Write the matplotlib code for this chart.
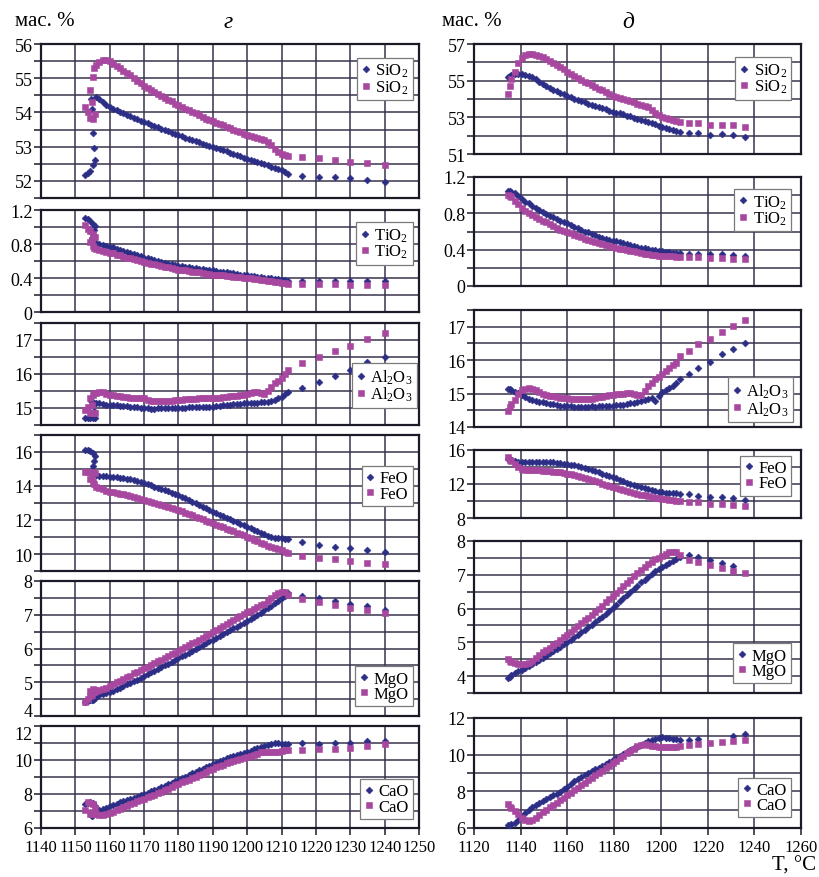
import numpy as np
import matplotlib
matplotlib.use('Agg')
import matplotlib.pyplot as plt
from matplotlib.ticker import MultipleLocator, FixedLocator, FuncFormatter

plt.rcParams['font.family'] = ['Liberation Serif', 'DejaVu Serif']
plt.rcParams['mathtext.fontset'] = 'custom'
plt.rcParams['mathtext.rm'] = 'Liberation Serif'
plt.rcParams['mathtext.default'] = 'rm'

# ---------- колонка "г": температуры ----------
t_g_n = [1152.8, 1153.6, 1154.4, 1155.2, 1155.7, 1155.3, 1155.0, 1154.7, 1154.6,
         1156, 1157, 1158, 1159, 1160, 1161, 1162, 1163, 1164, 1165,
         1166, 1167, 1168, 1169, 1170, 1171, 1172, 1173, 1174, 1175,
         1176, 1177, 1178, 1179, 1180, 1181, 1182, 1183, 1184, 1185,
         1186, 1187, 1188, 1189, 1190, 1191, 1192, 1193, 1194, 1195,
         1196, 1197, 1198, 1199, 1200, 1201, 1202, 1203, 1204, 1205,
         1206, 1207, 1208, 1209, 1210, 1211, 1212,
         1216, 1221, 1225.5, 1230, 1235, 1240]
t_g_m = [1152.8, 1153.6, 1154.4, 1155.2, 1155.6, 1154.8, 1154.4, 1155.0, 1155.5,
         1156, 1157, 1158, 1159, 1160, 1161, 1162, 1163, 1164, 1165,
         1166, 1167, 1168, 1169, 1170, 1171, 1172, 1173, 1174, 1175,
         1176, 1177, 1178, 1179, 1180, 1181, 1182, 1183, 1184, 1185,
         1186, 1187, 1188, 1189, 1190, 1191, 1192, 1193, 1194, 1195,
         1196, 1197, 1198, 1199, 1200, 1201, 1202, 1203, 1204, 1205,
         1206, 1207, 1208, 1209, 1210, 1211, 1212,
         1216, 1221, 1225.5, 1230, 1235, 1240]

# ---------- колонка "г": составы (ромбы / квадраты) ----------
sio2_g_n = [52.18, 52.22, 52.30, 52.45, 52.60, 52.95, 53.40, 54.10, 54.40,
            54.45, 54.38, 54.30, 54.22, 54.15, 54.11, 54.06, 54.02, 53.98, 53.93,
            53.89, 53.85, 53.81, 53.76, 53.72, 53.68, 53.64, 53.61, 53.57, 53.53,
            53.49, 53.45, 53.41, 53.37, 53.33, 53.30, 53.26, 53.23, 53.20, 53.16,
            53.13, 53.09, 53.06, 53.02, 52.99, 52.96, 52.92, 52.89, 52.86, 52.82,
            52.79, 52.75, 52.72, 52.68, 52.65, 52.62, 52.58, 52.55, 52.52, 52.48,
            52.45, 52.41, 52.38, 52.34, 52.31, 52.25, 52.19,
            52.15, 52.12, 52.10, 52.08, 52.03, 51.97]
sio2_g_m = [54.15, 54.00, 53.85, 53.80, 53.95, 54.30, 54.65, 55.05, 55.30,
            55.40, 55.48, 55.52, 55.52, 55.49, 55.43, 55.36, 55.29, 55.22, 55.15,
            55.08, 55.00, 54.93, 54.86, 54.78, 54.72, 54.66, 54.60, 54.54, 54.49,
            54.43, 54.37, 54.32, 54.26, 54.21, 54.16, 54.11, 54.06, 54.02, 53.97,
            53.92, 53.87, 53.82, 53.78, 53.74, 53.70, 53.66, 53.62, 53.58, 53.54,
            53.50, 53.46, 53.42, 53.38, 53.34, 53.31, 53.27, 53.24, 53.22, 53.19,
            53.15, 53.05, 52.94, 52.85, 52.80, 52.77, 52.74,
            52.70, 52.67, 52.62, 52.56, 52.53, 52.47]
tio2_g_n = [1.11, 1.09, 1.07, 1.04, 1.01, 0.97, 0.92, 0.87, 0.83,
            0.81, 0.80, 0.79, 0.78, 0.77, 0.76, 0.745, 0.73, 0.72, 0.705,
            0.69, 0.68, 0.665, 0.655, 0.64, 0.63, 0.62, 0.61, 0.60, 0.59,
            0.58, 0.57, 0.56, 0.555, 0.545, 0.54, 0.53, 0.525, 0.52, 0.515,
            0.51, 0.505, 0.50, 0.495, 0.49, 0.48, 0.475, 0.47, 0.465, 0.46,
            0.455, 0.45, 0.44, 0.435, 0.43, 0.425, 0.42, 0.415, 0.41, 0.405,
            0.40, 0.395, 0.39, 0.385, 0.38, 0.375, 0.37,
            0.37, 0.37, 0.37, 0.36, 0.36, 0.36]
tio2_g_m = [1.02, 0.98, 0.95, 0.92, 0.88, 0.85, 0.82, 0.78, 0.75,
            0.74, 0.73, 0.72, 0.71, 0.70, 0.69, 0.675, 0.665, 0.65, 0.64,
            0.63, 0.62, 0.61, 0.595, 0.585, 0.575, 0.565, 0.56, 0.55, 0.54,
            0.535, 0.525, 0.515, 0.51, 0.50, 0.495, 0.49, 0.48, 0.475, 0.47,
            0.465, 0.46, 0.45, 0.445, 0.44, 0.44, 0.435, 0.43, 0.425, 0.42,
            0.415, 0.41, 0.41, 0.405, 0.40, 0.395, 0.39, 0.385, 0.38, 0.375,
            0.37, 0.36, 0.355, 0.35, 0.345, 0.34, 0.33,
            0.33, 0.33, 0.33, 0.32, 0.32, 0.32]
al2o3_g_n = [14.70, 14.70, 14.70, 14.70, 14.72, 14.90, 15.10, 15.22, 15.20,
             15.15, 15.14, 15.12, 15.10, 15.09, 15.08, 15.08, 15.07, 15.06, 15.05,
             15.04, 15.03, 15.02, 15.00, 14.99, 14.99, 14.98, 14.98, 14.99, 14.99,
             15.00, 15.00, 15.00, 15.00, 15.00, 15.01, 15.01, 15.02, 15.02, 15.03,
             15.03, 15.03, 15.04, 15.04, 15.04, 15.05, 15.06, 15.08, 15.09, 15.10,
             15.11, 15.12, 15.13, 15.14, 15.14, 15.15, 15.15, 15.16, 15.17, 15.18,
             15.19, 15.21, 15.24, 15.28, 15.33, 15.40, 15.48,
             15.58, 15.77, 15.95, 16.12, 16.34, 16.51]
al2o3_g_m = [14.94, 15.04, 14.84, 14.84, 14.84, 15.10, 15.30, 15.38, 15.45,
             15.45, 15.47, 15.46, 15.42, 15.38, 15.37, 15.35, 15.34, 15.32, 15.31,
             15.30, 15.30, 15.29, 15.29, 15.28, 15.24, 15.22, 15.21, 15.20, 15.20,
             15.20, 15.21, 15.22, 15.23, 15.24, 15.25, 15.26, 15.27, 15.27, 15.27,
             15.28, 15.28, 15.28, 15.28, 15.28, 15.29, 15.30, 15.31, 15.33, 15.34,
             15.35, 15.36, 15.37, 15.38, 15.40, 15.44, 15.47, 15.48, 15.44, 15.40,
             15.50, 15.62, 15.73, 15.80, 15.87, 15.99, 16.12,
             16.33, 16.49, 16.69, 16.82, 17.02, 17.21]
feo_g_n = [16.12, 16.10, 16.05, 15.96, 15.78, 15.45, 15.15, 14.92, 14.70,
           14.62, 14.61, 14.60, 14.58, 14.55, 14.53, 14.51, 14.49, 14.47, 14.44,
           14.40, 14.35, 14.29, 14.23, 14.16, 14.10, 14.03, 13.96, 13.89, 13.82,
           13.75, 13.68, 13.61, 13.54, 13.47, 13.37, 13.27, 13.18, 13.08, 12.98,
           12.88, 12.78, 12.69, 12.59, 12.49, 12.40, 12.31, 12.22, 12.13, 12.04,
           11.95, 11.86, 11.78, 11.69, 11.60, 11.51, 11.42, 11.33, 11.24, 11.15,
           11.08, 11.02, 10.97, 10.94, 10.92, 10.89, 10.86,
           10.72, 10.53, 10.43, 10.34, 10.24, 10.10]
feo_g_m = [14.84, 14.84, 14.82, 14.80, 14.78, 14.55, 14.40, 14.25, 14.10,
           13.96, 13.88, 13.80, 13.73, 13.66, 13.62, 13.58, 13.55, 13.51, 13.47,
           13.41, 13.35, 13.30, 13.24, 13.18, 13.12, 13.06, 13.00, 12.95, 12.89,
           12.83, 12.77, 12.71, 12.65, 12.59, 12.51, 12.43, 12.35, 12.27, 12.19,
           12.12, 12.04, 11.96, 11.88, 11.80, 11.72, 11.64, 11.57, 11.49, 11.41,
           11.33, 11.25, 11.18, 11.10, 11.02, 10.93, 10.84, 10.75, 10.66, 10.57,
           10.50, 10.44, 10.37, 10.30, 10.24, 10.14, 10.04,
           9.88, 9.75, 9.69, 9.61, 9.49, 9.39]
mgo_g_n = [4.42, 4.44, 4.46, 4.50, 4.53, 4.50, 4.48, 4.47, 4.52,
           4.58, 4.61, 4.64, 4.67, 4.70, 4.75, 4.80, 4.84, 4.89, 4.94,
           4.99, 5.03, 5.08, 5.13, 5.18, 5.23, 5.29, 5.34, 5.39, 5.45,
           5.50, 5.55, 5.61, 5.66, 5.71, 5.77, 5.82, 5.88, 5.93, 5.99,
           6.04, 6.10, 6.15, 6.21, 6.26, 6.32, 6.37, 6.43, 6.48, 6.54,
           6.60, 6.65, 6.71, 6.76, 6.82, 6.88, 6.94, 7.00, 7.06, 7.13,
           7.20, 7.27, 7.34, 7.42, 7.49, 7.57, 7.64,
           7.56, 7.49, 7.40, 7.32, 7.25, 7.15]
mgo_g_m = [4.42, 4.50, 4.58, 4.80, 4.76, 4.62, 4.73, 4.72, 4.72,
           4.74, 4.76, 4.79, 4.84, 4.90, 4.95, 5.00, 5.05, 5.10, 5.15,
           5.20, 5.26, 5.31, 5.36, 5.41, 5.46, 5.51, 5.57, 5.62, 5.67,
           5.72, 5.77, 5.83, 5.88, 5.93, 5.98, 6.04, 6.09, 6.15, 6.20,
           6.26, 6.31, 6.37, 6.42, 6.48, 6.54, 6.60, 6.66, 6.72, 6.78,
           6.84, 6.90, 6.95, 7.01, 7.07, 7.12, 7.18, 7.23, 7.28, 7.33,
           7.41, 7.50, 7.60, 7.64, 7.66, 7.68, 7.58,
           7.47, 7.39, 7.29, 7.20, 7.15, 7.05]
cao_g_n = [7.42, 7.50, 7.52, 7.45, 7.30, 6.95, 6.78, 6.72, 6.75,
           6.97, 7.05, 7.12, 7.20, 7.27, 7.35, 7.43, 7.51, 7.59, 7.66,
           7.72, 7.79, 7.85, 7.92, 7.98, 8.07, 8.15, 8.24, 8.32, 8.41,
           8.50, 8.58, 8.67, 8.75, 8.84, 8.93, 9.02, 9.12, 9.21, 9.30,
           9.39, 9.48, 9.57, 9.66, 9.75, 9.84, 9.93, 10.02, 10.10, 10.19,
           10.25, 10.31, 10.36, 10.42, 10.48, 10.55, 10.63, 10.70, 10.78, 10.83,
           10.88, 10.94, 11.00, 11.02, 10.95, 10.93, 10.93,
           11.00, 10.95, 11.00, 11.02, 11.10, 11.14]
cao_g_m = [7.03, 7.52, 7.50, 7.42, 7.20, 6.95, 6.85, 6.80, 6.80,
           6.80, 6.78, 6.74, 6.80, 6.87, 6.95, 7.04, 7.13, 7.23, 7.32,
           7.40, 7.49, 7.56, 7.64, 7.72, 7.80, 7.88, 7.95, 8.03, 8.11,
           8.21, 8.31, 8.41, 8.51, 8.61, 8.69, 8.77, 8.84, 8.92, 9.00,
           9.10, 9.20, 9.30, 9.40, 9.50, 9.58, 9.66, 9.73, 9.81, 9.89,
           9.95, 10.01, 10.07, 10.13, 10.19, 10.23, 10.28, 10.38, 10.47, 10.48,
           10.48, 10.48, 10.48, 10.48, 10.55, 10.58, 10.58,
           10.58, 10.65, 10.65, 10.70, 10.80, 10.94]

# ---------- колонка "д": температуры ----------
t_d = [1134.6, 1135.3,
       1136.0, 1137.5, 1139.0, 1140.5, 1142.0, 1143.5, 1145.0, 1146.5, 1148.0, 1149.5,
       1151.0, 1152.5, 1154.0, 1155.5, 1157.0, 1158.5, 1160.0, 1161.5, 1163.0, 1164.5,
       1166.0, 1167.5, 1169.0, 1170.5, 1172.0, 1173.5, 1175.0, 1176.5, 1178.0, 1179.5,
       1181.0, 1182.5, 1184.0, 1185.5, 1187.0, 1188.5, 1190.0, 1191.5, 1193.0, 1194.5,
       1196.0, 1197.5, 1199.0, 1200.5, 1202.0, 1203.5, 1205.0, 1206.5, 1208.0,
       1212, 1216, 1221, 1226, 1231, 1236]

sio2_d_n = [55.18, 55.25,
            55.30, 55.34, 55.36, 55.35, 55.32, 55.28, 55.19, 55.07, 54.94, 54.81,
            54.69, 54.59, 54.50, 54.41, 54.33, 54.25, 54.17, 54.09, 54.02, 53.95,
            53.88, 53.81, 53.75, 53.68, 53.62, 53.56, 53.50, 53.43, 53.37, 53.31,
            53.26, 53.21, 53.16, 53.10, 53.05, 52.98, 52.92, 52.86, 52.80, 52.73,
            52.67, 52.61, 52.54, 52.47, 52.41, 52.35, 52.29, 52.23, 52.18,
            52.14, 52.14, 52.04, 52.09, 52.04, 51.94]
sio2_d_m = [54.27, 54.73,
            55.10, 55.45, 55.95, 56.25, 56.42, 56.48, 56.47, 56.42, 56.35, 56.27,
            56.18, 56.07, 55.96, 55.86, 55.74, 55.62, 55.50, 55.39, 55.27, 55.15,
            55.04, 54.94, 54.85, 54.75, 54.66, 54.56, 54.47, 54.37, 54.28, 54.19,
            54.13, 54.08, 54.02, 53.96, 53.90, 53.82, 53.75, 53.68, 53.62, 53.55,
            53.38, 53.22, 53.12, 53.03, 52.97, 52.92, 52.88, 52.82, 52.76,
            52.69, 52.69, 52.58, 52.60, 52.58, 52.45]
tio2_d_n = [1.05, 1.045,
            1.04, 1.02, 0.99, 0.96, 0.93, 0.91, 0.88, 0.86, 0.84, 0.81,
            0.79, 0.77, 0.76, 0.74, 0.72, 0.70, 0.69, 0.67, 0.65, 0.64,
            0.62, 0.60, 0.59, 0.57, 0.56, 0.54, 0.53, 0.52, 0.51, 0.50,
            0.49, 0.48, 0.47, 0.46, 0.45, 0.44, 0.43, 0.42, 0.415, 0.41,
            0.40, 0.395, 0.39, 0.38, 0.375, 0.37, 0.365, 0.36, 0.36,
            0.35, 0.35, 0.35, 0.35, 0.34, 0.33]
tio2_d_m = [1.00, 0.99,
            0.98, 0.94, 0.90, 0.86, 0.83, 0.80, 0.78, 0.76, 0.74, 0.72,
            0.70, 0.68, 0.66, 0.64, 0.62, 0.61, 0.59, 0.58, 0.56, 0.55,
            0.54, 0.52, 0.51, 0.50, 0.48, 0.47, 0.46, 0.45, 0.44, 0.43,
            0.42, 0.41, 0.405, 0.395, 0.39, 0.38, 0.37, 0.36, 0.355, 0.35,
            0.345, 0.34, 0.335, 0.33, 0.33, 0.325, 0.325, 0.32, 0.32,
            0.32, 0.32, 0.31, 0.31, 0.30, 0.30]
al2o3_d_n = [15.15, 15.13,
             15.10, 15.06, 15.01, 14.96, 14.90, 14.85, 14.81, 14.78, 14.76, 14.74,
             14.72, 14.70, 14.68, 14.66, 14.64, 14.63, 14.62, 14.62, 14.61, 14.61,
             14.60, 14.61, 14.61, 14.62, 14.61, 14.62, 14.62, 14.63, 14.63, 14.64,
             14.65, 14.66, 14.67, 14.69, 14.71, 14.73, 14.75, 14.77, 14.80, 14.83,
             14.86, 14.78, 14.92, 15.05, 15.12, 15.17, 15.23, 15.33, 15.45,
             15.60, 15.77, 15.94, 16.17, 16.34, 16.52]
al2o3_d_m = [14.48, 14.60,
             14.68, 14.82, 14.98, 15.10, 15.15, 15.16, 15.14, 15.10, 15.05, 15.00,
             14.96, 14.94, 14.92, 14.90, 14.88, 14.87, 14.86, 14.85, 14.84, 14.83,
             14.83, 14.84, 14.84, 14.85, 14.87, 14.89, 14.91, 14.93, 14.95, 14.97,
             14.98, 14.99, 15.00, 15.01, 15.01, 15.00, 14.97, 14.96, 15.08, 15.22,
             15.33, 15.43, 15.51, 15.60, 15.68, 15.76, 15.84, 15.92, 16.12,
             16.27, 16.49, 16.64, 16.83, 17.01, 17.21]
feo_d_n = [15.00, 14.90,
           14.85, 14.65, 14.58, 14.60, 14.62, 14.63, 14.63, 14.62, 14.62, 14.62,
           14.61, 14.59, 14.56, 14.52, 14.47, 14.41, 14.34, 14.27, 14.20, 14.12,
           14.00, 13.87, 13.74, 13.61, 13.49, 13.36, 13.23, 13.11, 12.98, 12.81,
           12.65, 12.48, 12.31, 12.17, 12.04, 11.91, 11.79, 11.66, 11.55, 11.44,
           11.33, 11.22, 11.11, 11.05, 11.00, 10.96, 10.93, 10.90, 10.88,
           10.82, 10.62, 10.50, 10.43, 10.31, 10.16]
feo_d_m = [15.14, 14.85,
           14.70, 14.30, 13.95, 13.75, 13.70, 13.67, 13.65, 13.62, 13.60, 13.58,
           13.55, 13.51, 13.47, 13.43, 13.38, 13.31, 13.23, 13.14, 13.05, 12.94,
           12.81, 12.69, 12.56, 12.43, 12.31, 12.18, 12.05, 11.93, 11.80, 11.67,
           11.55, 11.42, 11.30, 11.19, 11.08, 10.97, 10.87, 10.76, 10.66, 10.57,
           10.49, 10.41, 10.33, 10.26, 10.20, 10.14, 10.09, 10.04, 10.00,
           9.85, 9.85, 9.65, 9.65, 9.53, 9.45]
mgo_d_n = [3.93, 3.97,
           4.02, 4.09, 4.14, 4.19, 4.25, 4.31, 4.37, 4.43, 4.49, 4.55,
           4.61, 4.68, 4.74, 4.80, 4.87, 4.94, 5.01, 5.08, 5.16, 5.23,
           5.30, 5.37, 5.45, 5.52, 5.60, 5.68, 5.76, 5.84, 5.93, 6.02,
           6.12, 6.21, 6.31, 6.40, 6.50, 6.59, 6.68, 6.78, 6.86, 6.94,
           7.02, 7.10, 7.17, 7.23, 7.29, 7.35, 7.41, 7.47, 7.53,
           7.59, 7.52, 7.44, 7.35, 7.27, np.nan]
mgo_d_m = [4.50, 4.45,
           4.43, 4.40, 4.37, 4.35, 4.36, 4.40, 4.46, 4.54, 4.62, 4.70,
           4.77, 4.84, 4.91, 4.99, 5.07, 5.15, 5.23, 5.31, 5.40, 5.48,
           5.57, 5.65, 5.73, 5.82, 5.90, 5.99, 6.08, 6.18, 6.28, 6.37,
           6.47, 6.56, 6.66, 6.75, 6.85, 6.95, 7.05, 7.14, 7.23, 7.31,
           7.39, 7.46, 7.51, 7.56, 7.61, 7.66, 7.68, 7.67, 7.60,
           7.45, 7.37, 7.29, 7.19, 7.12, 7.04]
cao_d_n = [6.14, 6.16,
           6.20, 6.27, 6.43, 6.62, 6.81, 7.00, 7.12, 7.24, 7.37, 7.49,
           7.59, 7.69, 7.78, 7.88, 7.98, 8.12, 8.26, 8.40, 8.54, 8.65,
           8.76, 8.88, 8.99, 9.10, 9.20, 9.29, 9.39, 9.48, 9.58, 9.69,
           9.81, 9.92, 10.04, 10.16, 10.25, 10.34, 10.44, 10.55, 10.66, 10.75,
           10.81, 10.87, 10.91, 10.95, 10.93, 10.90, 10.86, 10.84, 10.82,
           10.82, 10.86, np.nan, np.nan, 11.03, 11.13]
cao_d_m = [7.31, 7.15,
           7.10, 6.95, 6.76, 6.56, 6.43, 6.40, 6.45, 6.56, 6.71, 6.86,
           6.99, 7.13, 7.26, 7.39, 7.52, 7.66, 7.79, 7.92, 8.06, 8.20,
           8.33, 8.47, 8.60, 8.73, 8.87, 9.00, 9.13, 9.27, 9.40, 9.53,
           9.67, 9.81, 9.95, 10.07, 10.20, 10.33, 10.45, 10.55, 10.57, 10.55,
           10.50, 10.47, 10.44, 10.42, 10.40, 10.40, 10.40, 10.42, 10.50,
           10.53, 10.58, 10.62, 10.71, 10.77, 10.82]

NAVY = '#2c2e86'
MAGENTA = '#a8479f'
GRID = '#39334d'
FRAME = '#1c1a26'

W, H = 819, 878
fig = plt.figure(figsize=(W / 100, H / 100), dpi=100)


def add_axes(x0, x1, y0, y1):
    # пиксельные координаты -> доли фигуры
    return fig.add_axes([x0 / W, 1 - y1 / H, (x1 - x0) / W, (y1 - y0) / H])


def panel(ax, tn, yn, tm, ym, label, ylim, majors, minor, loc, anchor,
          xlim, xstep, bottom):
    ax.plot(tn, yn, ls='none', marker='D', ms=3.5, color=NAVY, mec=NAVY,
            mew=0.4, label=label, zorder=3, clip_on=False)
    ax.plot(tm, ym, ls='none', marker='s', ms=4.2, color=MAGENTA, mec=MAGENTA,
            mew=0.4, label=label, zorder=3, clip_on=False)
    ax.set_xlim(*xlim)
    ax.set_ylim(*ylim)
    ax.xaxis.set_major_locator(MultipleLocator(xstep))
    ax.yaxis.set_major_locator(FixedLocator(majors))
    ax.yaxis.set_major_formatter(FuncFormatter(lambda v, p: f'{v:g}'))
    ax.yaxis.set_minor_locator(MultipleLocator(minor))
    ax.grid(True, which='major', axis='x', color=GRID, lw=1.1)
    ax.grid(True, which='both', axis='y', color=GRID, lw=1.1)
    ax.set_axisbelow(True)
    for s in ax.spines.values():
        s.set_linewidth(1.6)
        s.set_color(FRAME)
    ax.tick_params(axis='y', which='both', direction='out', length=5,
                   width=1.1, color=FRAME, labelsize=13, pad=1)
    if bottom:
        ax.tick_params(axis='x', direction='out', length=5, width=1.1,
                       color=FRAME, labelsize=12, pad=3)
    else:
        ax.tick_params(axis='x', length=0, labelbottom=False)
    leg = ax.legend(loc=loc, bbox_to_anchor=anchor, fontsize=12,
                    frameon=True, fancybox=False, framealpha=1,
                    edgecolor='#7a7a7a', handlelength=0.55, handletextpad=0.3,
                    labelspacing=-0.05, borderpad=0.25, borderaxespad=0,
                    markerscale=1.0)
    leg.get_frame().set_linewidth(0.9)
    return ax


# левая колонка (г)
xl = (1140, 1250)
panel(add_axes(41, 419, 45, 199), t_g_n, sio2_g_n, t_g_m, sio2_g_m, 'SiO$_2$',
      (51.5, 56), [52, 53, 54, 55, 56], 0.5, 'upper right', (0.983, 0.91), xl, 10, False)
panel(add_axes(41, 419, 211, 313), t_g_n, tio2_g_n, t_g_m, tio2_g_m, 'TiO$_2$',
      (0, 1.2), [0, 0.4, 0.8, 1.2], 0.2, 'upper right', (0.983, 0.88), xl, 10, False)
panel(add_axes(41, 419, 324, 426), t_g_n, al2o3_g_n, t_g_m, al2o3_g_m, 'Al$_2$O$_3$',
      (14.5, 17.5), [15, 16, 17], 0.5, 'lower right', (0.995, 0.17), xl, 10, False)
panel(add_axes(41, 419, 436, 572), t_g_n, feo_g_n, t_g_m, feo_g_m, 'FeO',
      (9, 17), [10, 12, 14, 16], 1, 'upper right', (0.983, 0.77), xl, 10, False)
ax_mg = panel(add_axes(41, 419, 582, 717), t_g_n, mgo_g_n, t_g_m, mgo_g_m, 'MgO',
              (4, 8), [4, 5, 6, 7, 8], 0.5, 'lower right', (0.983, 0.075), xl, 10, False)
ax_ca = panel(add_axes(41, 419, 727, 829), t_g_n, cao_g_n, t_g_m, cao_g_m, 'CaO',
              (6, 12), [6, 8, 10, 12], 1, 'lower right', (0.983, 0.09), xl, 10, True)
# "4" и "12" стоят почти вплотную, как в оригинале
ax_mg.yaxis.get_major_ticks()[0].label1.set_verticalalignment('baseline')
ax_ca.yaxis.get_major_ticks()[-1].label1.set_verticalalignment('top')

# правая колонка (д)
xr = (1120, 1260)
panel(add_axes(474, 801, 45, 155), t_d, sio2_d_n, t_d, sio2_d_m, 'SiO$_2$',
      (51, 57), [51, 53, 55, 57], 1, 'upper right', (0.969, 0.88), xr, 20, False)
panel(add_axes(474, 801, 178, 287), t_d, tio2_d_n, t_d, tio2_d_m, 'TiO$_2$',
      (0, 1.2), [0, 0.4, 0.8, 1.2], 0.2, 'upper right', (0.969, 0.89), xr, 20, False)
panel(add_axes(474, 801, 311, 428), t_d, al2o3_d_n, t_d, al2o3_d_m, 'Al$_2$O$_3$',
      (14, 17.5), [14, 15, 16, 17], 0.5, 'lower right', (0.975, 0.045), xr, 20, False)
panel(add_axes(474, 801, 451, 519), t_d, feo_d_n, t_d, feo_d_m, 'FeO',
      (8, 16), [8, 12, 16], 2, 'upper right', (0.969, 0.91), xr, 20, False)
panel(add_axes(474, 801, 542, 694), t_d, mgo_d_n, t_d, mgo_d_m, 'MgO',
      (3.5, 8), [4, 5, 6, 7, 8], 0.5, 'lower right', (0.969, 0.066), xr, 20, False)
panel(add_axes(474, 801, 719, 829), t_d, cao_d_n, t_d, cao_d_m, 'CaO',
      (6, 12), [6, 8, 10, 12], 1, 'lower right', (0.969, 0.10), xr, 20, True)

fig.text(15 / W, 1 - 22 / H, 'мас. %', fontsize=15, ha='left', va='center')
fig.text(442 / W, 1 - 22 / H, 'мас. %', fontsize=15, ha='left', va='center')
fig.text(228 / W, 1 - 22 / H, 'г', fontsize=17, style='italic', ha='center', va='center')
fig.text(628 / W, 1 - 22 / H, 'д', fontsize=17, style='italic', ha='center', va='center')
fig.text(816 / W, 1 - 857 / H, 'T, °C', fontsize=15, ha='right', va='top')

fig.savefig('out.png', dpi=100)
